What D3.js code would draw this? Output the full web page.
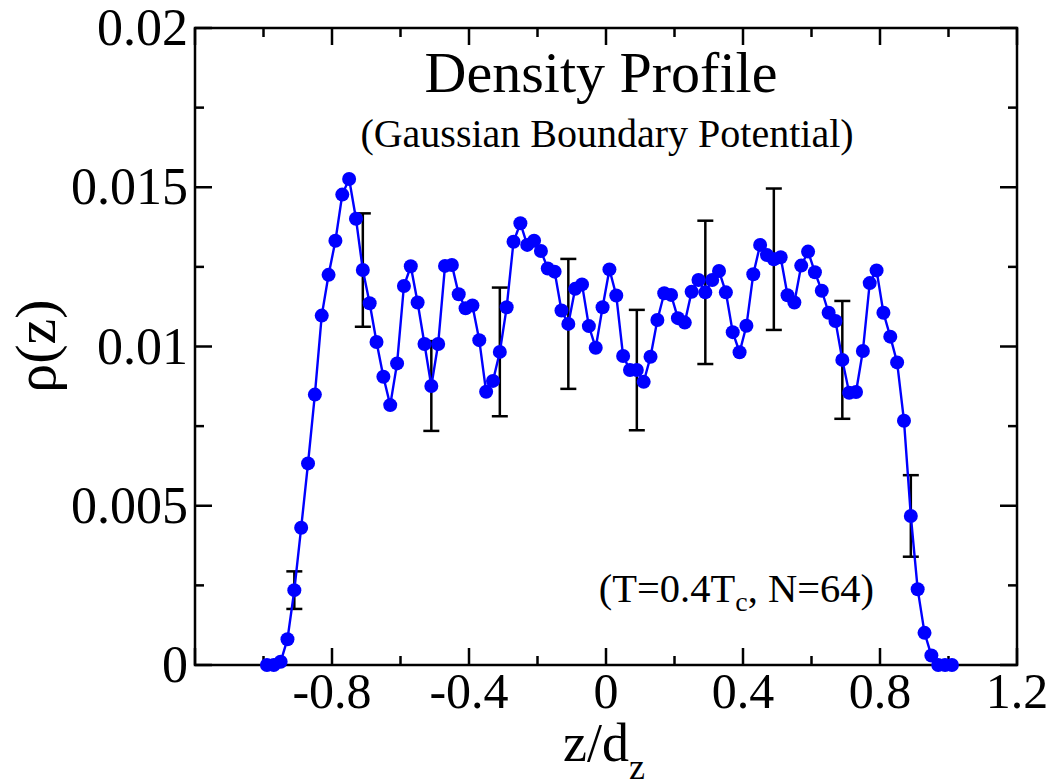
<!DOCTYPE html>
<html>
<head>
<meta charset="utf-8">
<script src="https://cdn.jsdelivr.net/npm/d3@7"></script>
<style>
  html, body { margin: 0; padding: 0; background: #fff; }
  svg { display: block; }
  text { font-family: "Liberation Serif", "Times New Roman", serif; fill: #000; }
</style>
</head>
<body>
<svg id="chart" width="1056" height="784"></svg>
<script>
// Reduced coordinate z/d_z of each bin
const zValues = [
  -0.99, -0.97, -0.95, -0.93, -0.91, -0.89, -0.87, -0.85, -0.83, -0.81,
  -0.79, -0.77, -0.75, -0.73, -0.71, -0.69, -0.67, -0.65, -0.63, -0.61,
  -0.59, -0.57, -0.55, -0.53, -0.51, -0.49, -0.47, -0.45, -0.43, -0.41,
  -0.39, -0.37, -0.35, -0.33, -0.31, -0.29, -0.27, -0.25, -0.23, -0.21,
  -0.19, -0.17, -0.15, -0.13, -0.11, -0.09, -0.07, -0.05, -0.03, -0.01,
   0.01,  0.03,  0.05,  0.07,  0.09,  0.11,  0.13,  0.15,  0.17,  0.19,
   0.21,  0.23,  0.25,  0.27,  0.29,  0.31,  0.33,  0.35,  0.37,  0.39,
   0.41,  0.43,  0.45,  0.47,  0.49,  0.51,  0.53,  0.55,  0.57,  0.59,
   0.61,  0.63,  0.65,  0.67,  0.69,  0.71,  0.73,  0.75,  0.77,  0.79,
   0.81,  0.83,  0.85,  0.87,  0.89,  0.91,  0.93,  0.95,  0.97,  0.99,
   1.01
];

// Density rho(z) in each bin
const rhoValues = [
  0.00000, 0.00000, 0.00010, 0.00081, 0.00235, 0.00431, 0.00633, 0.00849, 0.01097, 0.01225,
  0.01332, 0.01477, 0.01526, 0.01401, 0.01240, 0.01136, 0.01014, 0.00905, 0.00816, 0.00947,
  0.01190, 0.01252, 0.01138, 0.01008, 0.00876, 0.01008, 0.01253, 0.01256, 0.01164, 0.01120,
  0.01129, 0.01020, 0.00858, 0.00892, 0.00983, 0.01123, 0.01329, 0.01387, 0.01319, 0.01332,
  0.01300, 0.01245, 0.01235, 0.01113, 0.01071, 0.01181, 0.01195, 0.01064, 0.00996, 0.01123,
  0.01242, 0.01160, 0.00970, 0.00926, 0.00926, 0.00889, 0.00968, 0.01083, 0.01167, 0.01162,
  0.01089, 0.01075, 0.01172, 0.01209, 0.01170, 0.01209, 0.01237, 0.01170, 0.01045, 0.00982,
  0.01065, 0.01227, 0.01319, 0.01287, 0.01274, 0.01280, 0.01161, 0.01138, 0.01254, 0.01298,
  0.01233, 0.01175, 0.01106, 0.01080, 0.00958, 0.00855, 0.00857, 0.00986, 0.01199, 0.01239,
  0.01106, 0.01031, 0.00950, 0.00767, 0.00468, 0.00238, 0.00101, 0.00030, 0.00000, 0.00000,
  0.00000
];

// Bins that carry an error bar, with the half-width of each bar
const errorZ     = [-0.91, -0.71, -0.51, -0.31, -0.11, 0.09, 0.29, 0.49, 0.69, 0.89];
const errorDelta = [0.00059, 0.00178, 0.00141, 0.00202, 0.00204, 0.00189, 0.00225, 0.00222, 0.00185, 0.00128];

// Axis ticks
const xMajorTicks = [-1.2, -0.8, -0.4, 0, 0.4, 0.8, 1.2];
const xMinorTicks = [-1.0, -0.6, -0.2, 0.2, 0.6, 1.0];
const xTickLabels = [
  { v: -0.8, t: "-0.8" }, { v: -0.4, t: "-0.4" }, { v: 0, t: "0" },
  { v: 0.4, t: "0.4" }, { v: 0.8, t: "0.8" }, { v: 1.2, t: "1.2" }
];
const yMajorTicks = [0, 0.005, 0.01, 0.015, 0.02];
const yMinorTicks = [0.0025, 0.0075, 0.0125, 0.0175];
const yTickLabels = ["0", "0.005", "0.01", "0.015", "0.02"];

const plot = { left: 195, right: 1017, top: 28, bottom: 665 };

const svg = d3.select("#chart");

const x = d3.scaleLinear().domain([-1.2, 1.2]).range([plot.left, plot.right]);
const y = d3.scaleLinear().domain([0, 0.02]).range([plot.bottom, plot.top]);

const majorLen = 17, minorLen = 9;
const g = svg.append("g");

// Ticks pointing inward on all four sides
function tickLines(vals, len, horizontal) {
  vals.forEach(v => {
    if (horizontal) {
      const px = x(v);
      g.append("line").attr("x1", px).attr("x2", px)
        .attr("y1", plot.bottom).attr("y2", plot.bottom - len)
        .attr("stroke", "#000").attr("stroke-width", 2.5);
      g.append("line").attr("x1", px).attr("x2", px)
        .attr("y1", plot.top).attr("y2", plot.top + len)
        .attr("stroke", "#000").attr("stroke-width", 2.5);
    } else {
      const py = y(v);
      g.append("line").attr("x1", plot.left).attr("x2", plot.left + len)
        .attr("y1", py).attr("y2", py)
        .attr("stroke", "#000").attr("stroke-width", 2.5);
      g.append("line").attr("x1", plot.right).attr("x2", plot.right - len)
        .attr("y1", py).attr("y2", py)
        .attr("stroke", "#000").attr("stroke-width", 2.5);
    }
  });
}
tickLines(xMajorTicks, majorLen, true);
tickLines(xMinorTicks, minorLen, true);
tickLines(yMajorTicks, majorLen, false);
tickLines(yMinorTicks, minorLen, false);

// Frame
g.append("rect")
  .attr("x", plot.left).attr("y", plot.top)
  .attr("width", plot.right - plot.left).attr("height", plot.bottom - plot.top)
  .attr("fill", "none").attr("stroke", "#000").attr("stroke-width", 2.5);

// Tick labels
g.selectAll(".xlab").data(xTickLabels).enter().append("text")
  .attr("x", d => x(d.v)).attr("y", 708)
  .attr("text-anchor", "middle").attr("font-size", 50)
  .text(d => d.t);

g.selectAll(".ylab").data(yMajorTicks).enter().append("text")
  .attr("x", 188).attr("y", d => y(d) + 17)
  .attr("text-anchor", "end").attr("font-size", 52)
  .text((d, i) => yTickLabels[i]);

// Axis titles
const xt = g.append("text").attr("x", 563).attr("y", 761)
  .attr("text-anchor", "start").attr("font-size", 54);
xt.append("tspan").text("z/d");
xt.append("tspan").attr("font-size", 36).attr("dy", 18).text("z");

g.append("text")
  .attr("transform", "translate(55,346) rotate(-90)")
  .attr("text-anchor", "middle").attr("font-size", 58)
  .text("ρ(z)");

// Titles and annotation
g.append("text").attr("x", 601).attr("y", 92)
  .attr("text-anchor", "middle").attr("font-size", 58)
  .text("Density Profile");
g.append("text").attr("x", 607).attr("y", 147)
  .attr("text-anchor", "middle").attr("font-size", 40)
  .text("(Gaussian Boundary Potential)");

const ann = g.append("text").attr("x", 874).attr("y", 602)
  .attr("text-anchor", "end").attr("font-size", 40.5);
ann.append("tspan").text("(T=0.4T");
ann.append("tspan").attr("font-size", 28).attr("dy", 9).text("c");
ann.append("tspan").attr("dy", -9).text(", N=64)");

// Data
const points = zValues.map((z, i) => ({ z, rho: rhoValues[i] }));
const bars = errorZ.map((z, i) => {
  const k = zValues.findIndex(v => Math.abs(v - z) < 1e-9);
  return { z, rho: rhoValues[k], d: errorDelta[i] };
});

// Error bars
const cap = 8;
const eb = g.append("g").attr("stroke", "#000").attr("stroke-width", 2.5);
bars.forEach(b => {
  const px = x(b.z), top = y(b.rho + b.d), bot = y(b.rho - b.d);
  eb.append("line").attr("x1", px).attr("x2", px).attr("y1", top).attr("y2", bot);
  eb.append("line").attr("x1", px - cap).attr("x2", px + cap).attr("y1", top).attr("y2", top);
  eb.append("line").attr("x1", px - cap).attr("x2", px + cap).attr("y1", bot).attr("y2", bot);
});

// Line
g.append("path").datum(points)
  .attr("fill", "none").attr("stroke", "#0000ff").attr("stroke-width", 2.4)
  .attr("d", d3.line().x(d => x(d.z)).y(d => y(d.rho)));

// Markers
g.selectAll(".pt").data(points).enter().append("circle")
  .attr("cx", d => x(d.z)).attr("cy", d => y(d.rho)).attr("r", 7)
  .attr("fill", "#0000ff");
</script>
</body>
</html>
